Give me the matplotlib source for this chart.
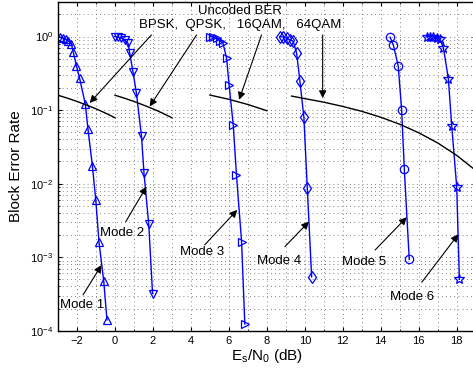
import numpy as np
import matplotlib
matplotlib.use('Agg')
import matplotlib.pyplot as plt
from matplotlib.ticker import MultipleLocator, LogLocator, NullFormatter

plt.rcParams['font.family'] = ['Liberation Sans', 'DejaVu Sans']
plt.rcParams['mathtext.default'] = 'regular'

# block error rate per mode
mode1_x = [-2.9, -2.75, -2.6, -2.45, -2.3, -2.2, -2.03, -1.86, -1.56, -1.42, -1.19, -1.01, -0.84, -0.59, -0.42]
mode1_y = [0.98, 0.96, 0.92, 0.87, 0.80, 0.62, 0.40, 0.27, 0.12, 0.055, 0.0176, 0.006, 0.0016, 4.7e-4, 1.4e-4]
mode2_x = [-0.01, 0.16, 0.34, 0.52, 0.69, 0.78, 0.95, 1.13, 1.40, 1.53, 1.78, 1.98]
mode2_y = [1.0, 0.98, 0.95, 0.90, 0.81, 0.59, 0.33, 0.17, 0.044, 0.0138, 0.0028, 3.2e-4]
mode3_x = [4.99, 5.17, 5.35, 5.52, 5.69, 5.88, 6.01, 6.23, 6.40, 6.67, 6.84]
mode3_y = [1.0, 0.98, 0.95, 0.88, 0.81, 0.51, 0.22, 0.063, 0.0131, 0.00162, 1.23e-4]
mode4_x = [8.69, 8.86, 9.04, 9.21, 9.39, 9.57, 9.74, 9.95, 10.13, 10.36]
mode4_y = [1.0, 0.98, 0.95, 0.90, 0.86, 0.59, 0.25, 0.080, 0.0087, 5.4e-4]
mode5_x = [14.49, 14.66, 14.92, 15.10, 15.24, 15.50]
mode5_y = [0.98, 0.77, 0.40, 0.10, 0.0158, 9.3e-4]
mode6_x = [16.42, 16.59, 16.77, 16.95, 17.12, 17.30, 17.56, 17.74, 18.0, 18.14]
mode6_y = [1.0, 1.0, 0.98, 0.95, 0.92, 0.70, 0.266, 0.06, 0.009, 5e-4]

# uncoded BER curves
bpsk_x = [-3, -2.5, -2, -1.5, -1, -0.5, 0]
bpsk_y = [0.159, 0.145, 0.131, 0.117, 0.104, 0.091, 0.0786]
qpsk_x = [0, 0.5, 1, 1.5, 2, 2.5, 3]
qpsk_y = [0.159, 0.145, 0.131, 0.117, 0.104, 0.091, 0.0786]
qam16_x = [5, 6, 7, 8]
qam16_y = [0.160, 0.140, 0.119, 0.098]
qam64_x = [9.3, 10, 11, 12, 13, 14, 15, 16, 17, 18, 19]
qam64_y = [0.155, 0.143, 0.128, 0.112, 0.0961, 0.0799, 0.0641, 0.0491, 0.0357, 0.0242, 0.0151]

fig = plt.figure(figsize=(4.73, 3.78), dpi=100)
ax = fig.add_axes([0.1226, 0.1251, 0.8831, 0.8683])

blue = (0, 0, 1)
modes = [(mode1_x, mode1_y, '^'), (mode2_x, mode2_y, 'v'), (mode3_x, mode3_y, '>'),
         (mode4_x, mode4_y, 'd'), (mode5_x, mode5_y, 'o'), (mode6_x, mode6_y, '*')]
for mx, my, mk in modes:
    ax.semilogy(mx, my, color=blue, lw=1.0, marker=mk, ms=6 if mk != '*' else 7.5,
                mfc='none', mec=blue, mew=0.9)

for bx, by in [(bpsk_x, bpsk_y), (qpsk_x, qpsk_y), (qam16_x, qam16_y), (qam64_x, qam64_y)]:
    ax.semilogy(bx, by, color='k', lw=1.0)

ax.set_xlim(-3, 19)
ax.set_ylim(1e-4, 2.9)
ax.xaxis.set_major_locator(MultipleLocator(2))
ax.xaxis.set_minor_locator(MultipleLocator(1))
ax.yaxis.set_major_locator(LogLocator(base=10, numticks=10))
ax.yaxis.set_minor_locator(LogLocator(base=10, subs=np.arange(2, 10), numticks=20))
ax.yaxis.set_minor_formatter(NullFormatter())
ax.grid(True, which='both', color='0.35', linestyle=(0, (1, 4)), lw=0.6)
ax.tick_params(which='both', direction='in', top=True, right=True, labelsize=8)
ax.tick_params(which='major', length=3)
ax.tick_params(which='minor', length=1.5)
for s in ax.spines.values():
    s.set_linewidth(1.0)

ax.set_xlabel('$E_s/N_0$ (dB)', fontsize=11, labelpad=1)
ax.set_ylabel('Block Error Rate', fontsize=11, labelpad=5)

# uncoded BER labels and arrows
ax.text(6.58, 2.2, 'Uncoded BER', ha='center', va='center', fontsize=9.5)
ax.text(6.58, 1.42, 'BPSK,  QPSK,   16QAM,   64QAM', ha='center', va='center', fontsize=9.5)
arrow = dict(arrowstyle='-|>', color='k', lw=0.8, mutation_scale=11, shrinkA=0, shrinkB=0)
ber_heads = [(-1.33, 0.125), (1.83, 0.112), (6.54, 0.138), (10.94, 0.145)]
ber_tails = [(1.92, 1.05), (4.30, 1.05), (7.72, 1.05), (10.94, 1.05)]
for h, t in zip(ber_heads, ber_tails):
    ax.annotate('', xy=h, xytext=t, arrowprops=arrow)

# mode labels and arrows
mode_text = ['Mode 1', 'Mode 2', 'Mode 3', 'Mode 4', 'Mode 5', 'Mode 6']
text_pos = [(-1.72, 2.24e-4), (0.40, 2.15e-3), (4.58, 1.19e-3), (8.62, 8.9e-4), (13.14, 8.5e-4), (15.67, 2.9e-4)]
tail_pos = [(-1.68, 3.07e-4), (0.57, 3.04e-3), (4.73, 1.47e-3), (8.95, 1.39e-3), (13.70, 1.25e-3), (16.16, 4.56e-4)]
head_pos = [(-0.71, 7.8e-4), (1.66, 9.1e-3), (6.44, 4.39e-3), (10.22, 3.04e-3), (15.37, 3.49e-3), (18.09, 2.05e-3)]
for lab, tp, tl, hd in zip(mode_text, text_pos, tail_pos, head_pos):
    ax.text(tp[0], tp[1], lab, ha='center', va='center', fontsize=9.5)
    ax.annotate('', xy=hd, xytext=tl, arrowprops=arrow)

fig.savefig('out.png', dpi=100)
